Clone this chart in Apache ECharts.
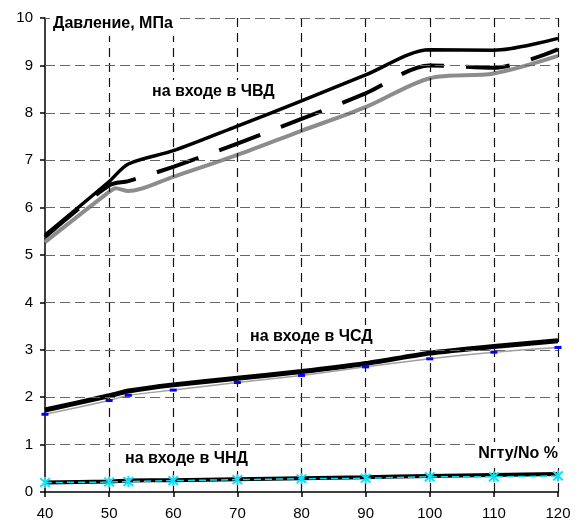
<!DOCTYPE html>
<html><head><meta charset="utf-8">
<script src="https://cdn.jsdelivr.net/npm/echarts@6/dist/echarts.min.js"></script>
<style>html,body{margin:0;padding:0;background:#fff}#c{width:582px;height:524px}</style>
</head><body><div id="c"></div>
<script>
// ---- data ----
const xPoints = [40, 50, 53, 60, 70, 80, 90, 100, 110, 120];
const hpSolid = [5.42, 6.55, 6.92, 7.20, 7.72, 8.25, 8.80, 9.33, 9.32, 9.57];
const hpDashed = [5.38, 6.47, 6.56, 6.86, 7.35, 7.87, 8.41, 9.00, 8.95, 9.34];
const hpGrayX = [40, 50, 51, 53, 60, 70, 80, 90, 100, 110, 120];
const hpGray = [5.27, 6.33, 6.41, 6.35, 6.65, 7.11, 7.62, 8.12, 8.73, 8.83, 9.20];
const ipSolid = [1.73, 2.03, 2.13, 2.26, 2.40, 2.54, 2.71, 2.93, 3.07, 3.19];
const ipGray = [1.64, 1.93, 2.04, 2.15, 2.31, 2.46, 2.64, 2.81, 2.95, 3.05];
const lpSolid = [0.20, 0.22, 0.24, 0.25, 0.27, 0.29, 0.31, 0.34, 0.36, 0.38];
const lpCyan = [0.20, 0.21, 0.22, 0.24, 0.26, 0.28, 0.29, 0.32, 0.32, 0.34];
const xTicks = [40, 50, 60, 70, 80, 90, 100, 110, 120];
const yTicks = [0, 1, 2, 3, 4, 5, 6, 7, 8, 9, 10];
const labels = {
  yTitle: 'Давление, МПа',
  hp: 'на входе в ЧВД',
  ip: 'на входе в ЧСД',
  lp: 'на входе в ЧНД',
  xTitle: 'Nгту/No %'
};

const pairs = (xs, ys) => xs.map((x, i) => [x, ys[i]]);
const FONT = 'Arial, "Liberation Sans", sans-serif';
const star = 'path://M-0.8,-5L0.8,-5L0.8,5L-0.8,5Z M-3.4,-4.6L4.6,3.4L3.4,4.6L-4.6,-3.4Z M3.4,-4.6L4.6,-3.4L-3.4,4.6L-4.6,3.4Z';

const chart = echarts.init(document.getElementById('c'), null, {renderer: 'canvas'});
const txt = (text, x, y, align) => ({
  type: 'text', x: x, y: y, z: 100,
  style: {
    text: text, font: 'bold 16px ' + FONT, fill: '#000',
    align: align || 'left', verticalAlign: 'middle',
    textAlign: align || 'left', textVerticalAlign: 'middle',
    backgroundColor: '#fff', padding: [4, 3]
  }
});
const gridLines = []
  .concat(xTicks.slice(1).map(v => ({xAxis: v, lineStyle: {color: '#111', width: 1.2, type: [9, 6]}})))
  .concat(yTicks.slice(1).map(v => ({yAxis: v, lineStyle: {color: '#666', width: 1.2, type: [10, 5]}})));

chart.setOption({
  animation: false,
  backgroundColor: '#fff',
  grid: {left: 45, right: 24, top: 18, bottom: 32, containLabel: false},
  xAxis: {
    type: 'value', min: xTicks[0], max: xTicks[xTicks.length - 1], interval: xTicks[1] - xTicks[0],
    axisLine: {show: true, onZero: false, lineStyle: {color: '#000', width: 1.5}},
    axisTick: {show: true, length: 5, lineStyle: {color: '#000', width: 1.5}},
    axisLabel: {color: '#000', fontSize: 15, fontFamily: FONT, margin: 14},
    splitLine: {show: false}
  },
  yAxis: {
    type: 'value', min: yTicks[0], max: yTicks[yTicks.length - 1], interval: yTicks[1] - yTicks[0],
    axisLine: {show: true, onZero: false, lineStyle: {color: '#000', width: 1.5}},
    axisTick: {show: true, length: 5, lineStyle: {color: '#000', width: 1.5}},
    axisLabel: {color: '#000', fontSize: 15, fontFamily: FONT, margin: 12},
    splitLine: {show: false}
  },
  graphic: [
    txt(labels.yTitle, 50, 24),
    txt(labels.hp, 149, 92),
    txt(labels.ip, 247, 337),
    txt(labels.lp, 122, 459),
    txt(labels.xTitle, 561, 454, 'right')
  ],
  series: [
    {type: 'line', data: [], z: 1, silent: true,
     markLine: {silent: true, symbol: 'none', animation: false, label: {show: false},
                emphasis: {disabled: true}, data: gridLines}},
    {type: 'line', data: pairs(hpGrayX, hpGray), smooth: 0.3, showSymbol: false, z: 3,
     lineStyle: {color: '#8c8c8c', width: 4}},
    {type: 'line', data: pairs(xPoints, hpDashed), smooth: 0.3, showSymbol: false, z: 4,
     lineStyle: {color: '#000', width: 4, type: [44, 22]}},
    {type: 'line', data: pairs(xPoints, hpSolid), smooth: 0.3, showSymbol: false, z: 5,
     lineStyle: {color: '#000', width: 3.5}},
    {type: 'line', data: pairs(xPoints, ipSolid), smooth: 0.2, showSymbol: false, z: 4,
     lineStyle: {color: '#000', width: 5}},
    {type: 'line', data: pairs(xPoints, ipGray), smooth: 0.2, z: 5,
     symbol: 'rect', symbolSize: [7, 3], showSymbol: true,
     itemStyle: {color: '#0000ff', borderWidth: 0},
     lineStyle: {color: '#a0a0a0', width: 1.5}},
    {type: 'line', data: pairs(xPoints, lpSolid), smooth: 0.2, showSymbol: false, z: 4,
     lineStyle: {color: '#000', width: 4}},
    {type: 'line', data: pairs(xPoints, lpCyan), smooth: 0.2, z: 5,
     symbol: star, symbolSize: 11, showSymbol: true,
     itemStyle: {color: '#10e0f8', borderWidth: 0},
     lineStyle: {color: '#10d8f0', width: 1.5, type: [7, 4]}}
  ]
});
</script>
</body></html>
